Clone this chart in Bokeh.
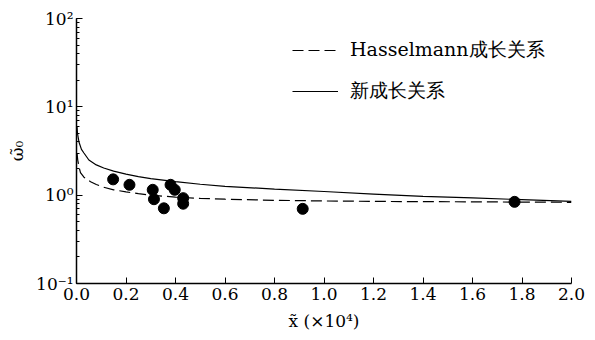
from bokeh.plotting import figure
from bokeh.models import (Legend, LegendItem, FixedTicker, LogTicker,
                          CustomJSTickFormatter, PrintfTickFormatter)
from bokeh.embed import file_html
from bokeh.resources import INLINE

# ---- data ----
x_new = [0.002, 0.004, 0.01, 0.02, 0.03, 0.05, 0.08, 0.11, 0.15, 0.2, 0.25, 0.3,
         0.4, 0.5, 0.6, 0.8, 1.0, 1.2, 1.4, 1.6, 1.8, 2.0]
y_new = [6.0, 5.0, 4.0, 3.3, 3.0, 2.5, 2.2, 2.03, 1.87, 1.73, 1.62, 1.54,
         1.42, 1.33, 1.26, 1.17, 1.10, 1.03, 0.97, 0.93, 0.89, 0.85]

x_has = [0.002, 0.005, 0.01, 0.016, 0.03, 0.057, 0.08, 0.11, 0.15, 0.2, 0.25, 0.3,
         0.4, 0.5, 0.6, 0.8, 1.0, 1.2, 1.6, 2.0]
y_has = [3.0, 2.5, 2.1, 1.8, 1.6, 1.42, 1.32, 1.23, 1.15, 1.09, 1.04, 1.0,
         0.95, 0.92, 0.9, 0.875, 0.86, 0.85, 0.84, 0.83]

x_obs = [0.148, 0.214, 0.308, 0.313, 0.353, 0.38, 0.397, 0.431, 0.431, 0.914, 1.77]
y_obs = [1.51, 1.31, 1.15, 0.90, 0.71, 1.31, 1.15, 0.925, 0.80, 0.70, 0.84]

x_ticks = [0.0, 0.2, 0.4, 0.6, 0.8, 1.0, 1.2, 1.4, 1.6, 1.8, 2.0]
label_has = "Hasselmann成长关系"
label_new = "新成长关系"
x_label = "x̃ (×10⁴)"
y_label = "ω̃₀"

SERIF = "DejaVu Serif"

p = figure(width=595, height=340, x_range=(0, 2.0), y_range=(0.1, 100),
           y_axis_type="log", output_backend="svg", toolbar_location=None,
           min_border_left=76, min_border_right=24, min_border_top=18,
           min_border_bottom=57)
p.outline_line_color = None
p.grid.visible = False
p.background_fill_color = "white"
p.border_fill_color = "white"

r_has = p.line(x_has, y_has, line_color="black", line_width=1.2, line_dash="11 5")
r_new = p.line(x_new, y_new, line_color="black", line_width=1.2)
p.scatter(x_obs, y_obs, size=11, marker="circle", fill_color="black", line_color="black")

# axes
for ax in (p.xaxis[0], p.yaxis[0]):
    ax.axis_line_color = "black"
    ax.axis_line_width = 1.5
    ax.major_tick_in = 6
    ax.major_tick_out = 0
    ax.minor_tick_in = 3
    ax.minor_tick_out = 0
    ax.major_tick_line_color = "black"
    ax.major_label_text_font = SERIF
    ax.major_label_text_font_size = "17px"
    ax.major_label_text_color = "black"
    ax.axis_label_text_font = SERIF
    ax.axis_label_text_font_size = "17px"
    ax.axis_label_text_font_style = "normal"
    ax.axis_label_text_color = "black"

p.xaxis.ticker = FixedTicker(ticks=x_ticks)
p.xaxis.formatter = PrintfTickFormatter(format="%.1f")
p.xaxis.minor_tick_line_color = None
p.xaxis.major_label_standoff = 4
p.xaxis.axis_label = x_label
p.xaxis.axis_label_standoff = 8

p.yaxis.ticker = LogTicker(num_minor_ticks=10)
p.yaxis.formatter = CustomJSTickFormatter(code="""
const sup = {"-1": "\u207b\u00b9", "0": "\u2070", "1": "\u00b9", "2": "\u00b2"};
const e = Math.round(Math.log10(tick));
return "10" + (sup[String(e)] || String(e));
""")
p.yaxis.minor_tick_line_color = "black"
p.yaxis.major_label_standoff = 3
p.yaxis.axis_label = y_label
p.yaxis.axis_label_standoff = 6

legend = Legend(items=[LegendItem(label=label_has, renderers=[r_has]),
                       LegendItem(label=label_new, renderers=[r_new])],
                location=(216, 179), border_line_color=None,
                background_fill_alpha=0, padding=0, margin=0,
                glyph_width=46, glyph_height=20, label_height=20,
                spacing=15, label_standoff=12,
                label_text_font=SERIF, label_text_font_size="19px",
                label_text_color="black")
p.add_layout(legend)

open("out.html", "w").write(file_html(p, INLINE))
